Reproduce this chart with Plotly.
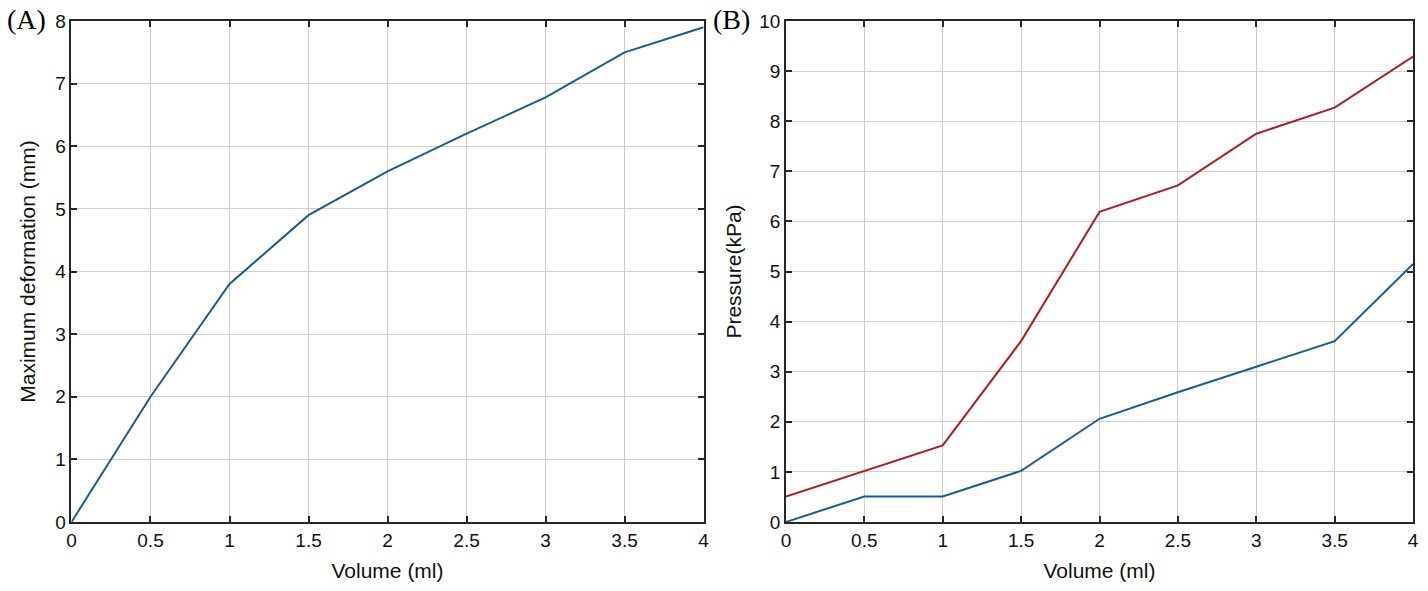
import plotly.graph_objects as go

# panel A: maximum deformation vs volume
volume = [0, 0.5, 1, 1.5, 2, 2.5, 3, 3.5, 4]
deformation = [0, 2.0, 3.8, 4.9, 5.6, 6.2, 6.78, 7.5, 7.9]

# panel B: pressure vs volume, two series
pressure_low = [0, 0.51, 0.51, 1.02, 2.06, 2.59, 3.1, 3.61, 5.15]
pressure_high = [0.51, 1.02, 1.53, 3.61, 6.19, 6.72, 7.75, 8.27, 9.29]

x_ticks = [0, 0.5, 1, 1.5, 2, 2.5, 3, 3.5, 4]
x_ticktext = ["0", "0.5", "1", "1.5", "2", "2.5", "3", "3.5", "4"]

BLUE = "#155f8f"
RED = "#b01c1f"
W = 1428
H = 591

fig = go.Figure()

fig.add_trace(go.Scatter(x=volume, y=deformation, mode="lines",
                         line={"color": BLUE, "width": 2},
                         xaxis="x", yaxis="y", showlegend=False))
fig.add_trace(go.Scatter(x=volume, y=pressure_high, mode="lines",
                         line={"color": RED, "width": 2},
                         xaxis="x2", yaxis="y2", showlegend=False))
fig.add_trace(go.Scatter(x=volume, y=pressure_low, mode="lines",
                         line={"color": BLUE, "width": 2},
                         xaxis="x2", yaxis="y2", showlegend=False))

axis_style = dict(
    showgrid=True, gridcolor="#cfcfcf", gridwidth=1,
    showline=True, linecolor="#262626", linewidth=1.5, mirror="ticks",
    ticks="inside", ticklen=6, tickwidth=1.5, tickcolor="#262626",
    zeroline=False,
    tickfont={"family": "Liberation Sans, Arial", "size": 19, "color": "#111111"},
    title_font={"family": "Liberation Sans, Arial", "size": 21, "color": "#111111"},
)

fig.update_layout(
    width=W, height=H,
    paper_bgcolor="white", plot_bgcolor="white",
    margin={"l": 0, "r": 0, "t": 21, "b": 69},
    xaxis=dict(axis_style, domain=[67 / W, 704 / W], range=[0, 4],
               tickvals=x_ticks, ticktext=x_ticktext,
               title={"text": "Volume (ml)", "standoff": 14}, anchor="y"),
    yaxis=dict(axis_style, domain=[0, 1], range=[0, 8], dtick=1,
               title={"text": "Maximum deformation (mm)", "standoff": 14}, anchor="x"),
    xaxis2=dict(axis_style, domain=[787 / W, 1419 / W], range=[0, 4],
                tickvals=x_ticks, ticktext=x_ticktext,
                title={"text": "Volume (ml)", "standoff": 14}, anchor="y2"),
    yaxis2=dict(axis_style, domain=[0, 1], range=[0, 10], dtick=1,
                title={"text": "Pressure(kPa)", "standoff": 12}, anchor="x2"),
    annotations=[
        dict(text="(A)", x=0, y=1 + 19 / 501, xref="paper", yref="paper",
             showarrow=False, xanchor="left", yanchor="top",
             font={"family": "Liberation Serif, Times New Roman", "size": 28, "color": "black"}),
        dict(text="(B)", x=711 / W, y=1 + 19 / 501, xref="paper", yref="paper",
             showarrow=False, xanchor="left", yanchor="top",
             font={"family": "Liberation Serif, Times New Roman", "size": 28, "color": "black"}),
    ],
)

# drop the default body margin so the figure sits at the page corner
fig.write_html("out.html", config={"displayModeBar": False},
               post_script="document.body.style.margin = '0';")
